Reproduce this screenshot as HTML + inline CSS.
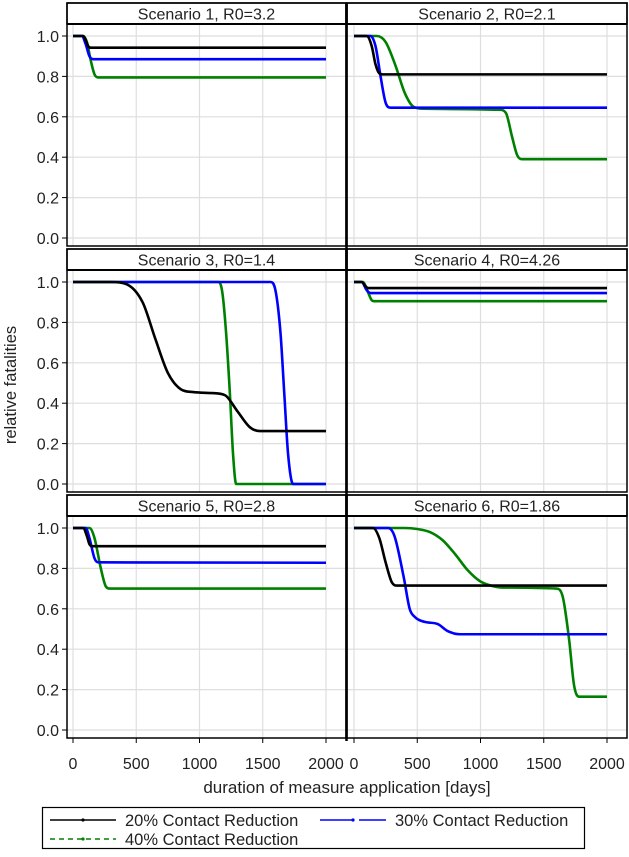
<!DOCTYPE html>
<html><head><meta charset="utf-8"><style>
body{margin:0;background:#fff;}
svg text{font-family:"Liberation Sans",Arial,sans-serif;fill:#222;}
</style></head><body>
<svg id="chart" width="629" height="852" xmlns="http://www.w3.org/2000/svg"></svg>
<script>
const titles=["Scenario 1, R0=3.2","Scenario 2, R0=2.1","Scenario 3, R0=1.4","Scenario 4, R0=4.26","Scenario 5, R0=2.8","Scenario 6, R0=1.86"];
const seriesNames=["20% Contact Reduction","30% Contact Reduction","40% Contact Reduction"];
const xTicks=[0,500,1000,1500,2000];
const yTicks=[0,0.2,0.4,0.6,0.8,1.0];
const p1x=[[0,80,100,120,140,2000],[0,70,100,130,160,2000],[0,80,110,140,170,200,2000]];
const p1y=[[1,1,0.98,0.95,0.942,0.942],[1,1,0.96,0.9,0.885,0.885],[1,1,0.97,0.88,0.81,0.795,0.795]];
const p2x=[[0,100,140,170,200,230,2000],[0,130,170,210,250,290,2000],[0,180,250,330,400,470,550,1150,1200,1250,1290,1330,2000]];
const p2y=[[1,1,0.95,0.86,0.815,0.81,0.81],[1,1,0.95,0.8,0.67,0.645,0.645],[1,1,0.97,0.85,0.72,0.65,0.64,0.635,0.62,0.5,0.41,0.39,0.39]];
const p3x=[[0,300,420,550,650,750,850,950,1100,1200,1300,1400,1480,2000],[0,1560,1600,1640,1670,1700,1740,2000],[0,1150,1180,1210,1240,1265,1290,2000]];
const p3y=[[1,1,0.99,0.9,0.72,0.55,0.47,0.455,0.45,0.44,0.36,0.28,0.262,0.262],[1,1,0.96,0.75,0.45,0.15,0,0],[1,1,0.95,0.75,0.45,0.15,0,0]];
const p4x=[[0,60,90,110,2000],[0,60,100,130,2000],[0,70,110,140,160,2000]];
const p4y=[[1,1,0.98,0.97,0.97],[1,1,0.96,0.945,0.945],[1,1,0.95,0.91,0.905,0.905]];
const p5x=[[0,80,110,130,150,2000],[0,100,130,170,200,2000],[0,130,170,220,260,290,2000]];
const p5y=[[1,1,0.96,0.92,0.91,0.91],[1,1,0.95,0.85,0.83,0.828],[1,1,0.95,0.8,0.71,0.7,0.7]];
const p6x=[[0,150,200,250,300,340,2000],[0,270,320,395,440,480,560,660,740,840,2000],[0,400,500,600,700,800,900,1000,1100,1200,1600,1650,1700,1740,1780,2000]];
const p6y=[[1,1,0.95,0.83,0.73,0.715,0.715],[1,1,0.96,0.75,0.6,0.56,0.535,0.525,0.49,0.474,0.474],[1,1,0.995,0.98,0.94,0.87,0.79,0.735,0.712,0.705,0.70,0.66,0.45,0.22,0.165,0.165]];
const panelX=[p1x,p2x,p3x,p4x,p5x,p6x];
const panelY=[p1y,p2y,p3y,p4y,p5y,p6y];
const colors=["#000000","#0000ff","#008000"];

const NS="http://www.w3.org/2000/svg";
const svg=document.getElementById('chart');
function mk(t,a,p){const e=document.createElementNS(NS,t);for(const k in a)e.setAttribute(k,a[k]);(p||svg).appendChild(e);return e;}
const cols=[{l:67,r:346,x0:73,x1:326},{l:347,r:627,x0:354,x1:607}];
function monoPath(xs,ys){
  const n=xs.length;if(n<2)return"";
  const d=[],m=new Array(n);
  for(let i=0;i<n-1;i++)d.push((ys[i+1]-ys[i])/(xs[i+1]-xs[i]));
  m[0]=d[0];m[n-1]=d[n-2];
  for(let i=1;i<n-1;i++){m[i]=(d[i-1]*d[i]<=0)?0:(d[i-1]+d[i])/2;}
  for(let i=0;i<n-1;i++){if(d[i]===0){m[i]=0;m[i+1]=0;continue;}const a=m[i]/d[i],b=m[i+1]/d[i],s=a*a+b*b;if(s>9){const t=3/Math.sqrt(s);m[i]=t*a*d[i];m[i+1]=t*b*d[i];}}
  let p="M"+xs[0]+","+ys[0];
  for(let i=0;i<n-1;i++){const h=(xs[i+1]-xs[i])/3;p+=" C"+(xs[i]+h)+","+(ys[i]+m[i]*h)+" "+(xs[i+1]-h)+","+(ys[i+1]-m[i+1]*h)+" "+xs[i+1]+","+ys[i+1];}
  return p;
}
for(let pi=0;pi<6;pi++){
  const c=cols[pi%2],row=Math.floor(pi/2);
  const top=3+246*row, ptop=top+21, pbot=top+243;
  const yT=36+246*row, yB=238+246*row;
  const sx=v=>c.x0+v/2000*(c.x1-c.x0);
  const sy=v=>yB-v*(yB-yT);
  const g=mk('g',{});
  
  
  xTicks.forEach(t=>{const l=mk('line',{x1:sx(t),x2:sx(t),y1:ptop,y2:pbot,stroke:'#dedede','stroke-width':1.2},g);});
  yTicks.forEach(t=>{const l=mk('line',{x1:c.l,x2:c.r,y1:sy(t),y2:sy(t),stroke:'#dedede','stroke-width':1.2},g);});
  for(let s=2;s>=0;s--){
    const xs=panelX[pi][s].map(sx), ys=panelY[pi][s].map(sy);
    const path=mk('path',{d:monoPath(xs,ys),fill:'none',stroke:colors[s],'stroke-width':2.6},g);
    
    
  }
  const hb=mk('rect',{x:c.l,y:top,width:c.r-c.l,height:21,fill:'#fff',stroke:'#000','stroke-width':1.5},g);
  
  const ht=mk('text',{x:(c.l+c.r)/2,y:top+16.5,'text-anchor':'middle','font-size':16},g);ht.textContent=titles[pi];
  
  mk('line',{x1:c.l,x2:c.r,y1:ptop,y2:ptop,stroke:'#000','stroke-width':2},g);
  const fr=mk('rect',{x:c.l,y:top,width:c.r-c.l,height:pbot-top,fill:'none',stroke:'#000','stroke-width':1.5},g);
  
  if(pi%2===0){yTicks.forEach(t=>{mk('line',{x1:c.l-5,x2:c.l,y1:sy(t),y2:sy(t),stroke:'#000','stroke-width':1},g);const tx=mk('text',{x:c.l-8,y:sy(t)+6,'text-anchor':'end','font-size':16},g);tx.textContent=t.toFixed(1);});}
  if(row===2){xTicks.forEach(t=>{mk('line',{x1:sx(t),x2:sx(t),y1:pbot,y2:pbot+5,stroke:'#000','stroke-width':1},g);const tx=mk('text',{x:sx(t),y:769,'text-anchor':'middle','font-size':16},g);tx.textContent=t;});}
}
mk('line',{x1:346.5,x2:346.5,y1:3,y2:741,stroke:'#000','stroke-width':2.5});
const yl=mk('text',{x:16,y:385,'text-anchor':'middle','font-size':16.5,transform:'rotate(-90 16 385)'});yl.textContent='relative fatalities';

const xl=mk('text',{x:347,y:793,'text-anchor':'middle','font-size':17});xl.textContent='duration of measure application [days]';

const lg=mk('g',{});
mk('rect',{x:42.5,y:807.5,width:542,height:41,fill:'#fff',stroke:'#000','stroke-width':1.2},lg);
const leg=[{x:50,y:820,s:0,dash:''},{x:320,y:820,s:1,dash:'33 6 22 0'},{x:50,y:839,s:2,dash:'5 4'}];
leg.forEach(e=>{
  const ln=mk('line',{x1:e.x,x2:e.x+66,y1:e.y,y2:e.y,stroke:colors[e.s],'stroke-width':1.5,'stroke-dasharray':e.dash},lg);
  
  mk('circle',{cx:e.x+33,cy:e.y,r:1.6,fill:colors[e.s]},lg);
  const t=mk('text',{x:e.x+75,y:e.y+6,'font-size':16.5},lg);t.textContent=seriesNames[e.s];
  
});
</script>
</body></html>
